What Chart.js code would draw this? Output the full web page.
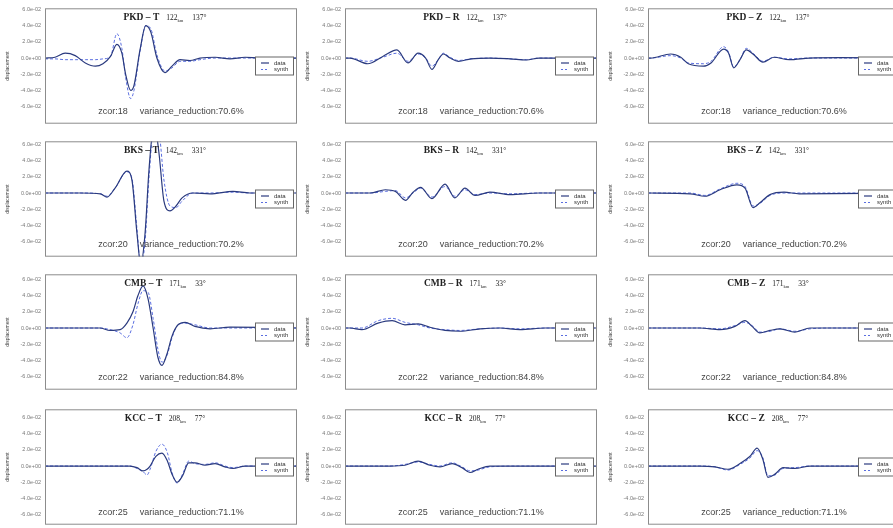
<!DOCTYPE html>
<html>
<head>
<meta charset="utf-8">
<script src="https://cdn.jsdelivr.net/npm/chart.js@4.4.1/dist/chart.umd.min.js"></script>
<style>
  body { margin: 0; background: #fff; overflow: hidden; width: 893px; height: 528px; position: relative; }
  canvas { position: absolute; }
</style>
</head>
<body>
<script>
// station info per row
const stations = ['PKD', 'BKS', 'CMB', 'KCC'];
const components = ['T', 'R', 'Z'];
const distances = [122, 142, 171, 208];
const azimuths = [137, 331, 33, 77];
const zcor = [18, 20, 22, 25];
const varReduction = [70.6, 70.2, 84.8, 71.1];
const tickStep = [0.02, 0.02, 0.02, 0.02];
const yMax = [0.0614, 0.0638, 0.0662, 0.07];
const yMin = [-0.081, -0.0786, -0.076, -0.0724];

// PKD
const pkdT_t = [0, 4, 8, 12, 16, 20, 23, 26, 28.5, 30.5, 32, 34, 35.3, 37.7, 40, 42, 44.4, 47.6, 50.4, 53.6, 57.5, 61.5, 67.5, 73.4, 79.4, 85.3, 100];
const pkdT_data = [0, 0.001, 0.006, 0.003, -0.006, -0.010, -0.007, 0.002, 0.017, 0.006, -0.020, -0.040, -0.034, 0.010, 0.040, 0.032, 0, -0.018, -0.010, -0.002, -0.003, 0, 0.001, -0.001, 0.001, 0, 0];
const pkdT_synth = [-0.001, -0.001, -0.002, -0.002, -0.002, -0.002, -0.001, 0.002, 0.030, 0.012, -0.024, -0.050, -0.040, 0.008, 0.040, 0.036, 0.004, -0.016, -0.012, -0.004, -0.004, -0.002, 0, 0, 0, 0, 0];

const pkdR_t = [0, 2, 9, 15, 20.6, 25, 29, 32, 34.5, 37, 39, 41.7, 45, 50, 57.5, 65.5, 72, 77, 100];
const pkdR_data = [0, 0, -0.007, 0.002, 0.010, -0.006, 0.006, 0, -0.014, -0.002, 0.005, 0, -0.004, -0.001, 0, -0.001, -0.0024, 0, 0];
const pkdR_synth = [0, 0, -0.004, 0.001, 0.006, -0.004, 0.005, 0, -0.010, -0.002, 0.006, 0.001, -0.003, -0.001, 0, -0.001, -0.002, 0, 0];

const pkdZ_t = [0, 1, 9, 13, 16, 22, 25, 30, 32, 34, 36.5, 39, 42, 45.6, 50, 56, 64, 76, 100];
const pkdZ_data = [0, 0, 0.005, 0.001, -0.007, -0.010, -0.006, 0.011, 0.006, -0.012, -0.002, 0.010, 0.004, -0.005, 0.001, -0.002, 0, 0.0006, 0];
const pkdZ_synth = [0, 0, 0.003, 0, -0.006, -0.007, -0.004, 0.014, 0.007, -0.011, -0.002, 0.012, 0.005, -0.004, 0.001, -0.001, 0, 0, 0];

// BKS
const bksT_t = [0, 14, 22, 24.6, 27.8, 32.5, 34.5, 36.5, 38, 39.7, 41.3, 43.3, 45.2, 47.2, 49.6, 52, 54.4, 58.7, 65.5, 74.6, 81.3, 100];
const bksT_data = [0, 0, -0.001, -0.005, 0.006, 0.027, 0.016, -0.050, -0.088, -0.050, 0.030, 0.086, 0.050, -0.010, -0.022, -0.016, -0.006, 0, -0.001, 0.002, 0, 0];
const bksT_synth = [0, 0, -0.001, -0.004, 0.006, 0.026, 0.018, -0.044, -0.090, -0.060, 0.020, 0.084, 0.076, 0.016, -0.016, -0.018, -0.010, 0, 0, 0.001, 0, 0];

const bksR_t = [0, 10, 16, 20, 24, 27, 30, 34.5, 39.7, 43.6, 47.6, 51.6, 57.5, 65.5, 77, 100];
const bksR_data = [0, 0, 0.004, 0.002, -0.009, 0.001, 0.007, -0.007, 0.011, -0.006, 0.006, -0.003, 0.001, -0.002, 0, 0];
const bksR_synth = [0, 0, 0.002, 0.003, -0.006, 0, 0.006, -0.005, 0.008, -0.004, 0.004, -0.002, 0, -0.001, 0, 0];

const bksZ_t = [0, 16.7, 22.6, 28.6, 35.3, 38.5, 41.7, 44.4, 48.4, 54, 60, 100];
const bksZ_data = [0, -0.001, -0.004, 0.004, 0.010, 0.006, -0.018, -0.012, -0.002, 0.001, -0.001, 0];
const bksZ_synth = [0, 0, -0.003, 0.005, 0.012, 0.008, -0.016, -0.013, -0.003, 0, 0, 0];

// CMB
const cmbT_t = [0, 21.8, 25.8, 29.8, 32.5, 34.9, 36.9, 38.9, 40.9, 42.9, 44.8, 46.4, 48.4, 50.4, 52.8, 55.6, 59.5, 65.5, 73.4, 100];
const cmbT_data = [0, 0, -0.003, -0.002, 0.006, 0.020, 0.040, 0.052, 0.036, 0, -0.036, -0.046, -0.032, -0.010, 0.004, 0.007, 0.002, -0.001, 0.001, 0];
const cmbT_synth = [0, 0, -0.002, -0.006, -0.012, 0.004, 0.030, 0.046, 0.044, 0.012, -0.026, -0.042, -0.034, -0.012, 0.004, 0.006, 0.004, 0, 0, 0];

const cmbR_t = [0, 2, 6.7, 13.1, 18.7, 23.8, 29, 33.7, 39.7, 45.6, 53.6, 61.5, 69.4, 79.4, 100];
const cmbR_data = [0, 0, -0.002, 0.006, 0.009, 0.004, 0.005, 0.001, -0.003, -0.004, -0.001, 0, -0.002, 0, 0];
const cmbR_synth = [0, 0, 0, 0.009, 0.012, 0.007, 0.004, 0, -0.002, -0.003, -0.001, 0, -0.001, 0, 0];

const cmbZ_t = [0, 20.6, 28.6, 34.5, 38.5, 41.3, 44.4, 48.4, 52.4, 58.3, 64.3, 72.2, 100];
const cmbZ_data = [0, 0, -0.002, 0.002, 0.009, 0.002, -0.006, -0.003, -0.001, -0.005, 0, 0, 0];
const cmbZ_synth = [0, 0, -0.001, 0.003, 0.007, 0.003, -0.005, -0.004, -0.001, -0.004, -0.001, 0, 0];

// KCC
const kccT_t = [0, 33.7, 36.5, 38.9, 40.5, 41.7, 44, 46.4, 48.6, 50.4, 52.4, 54.6, 57, 59.5, 63.5, 67.5, 71.4, 74.6, 79.4, 100];
const kccT_data = [0, 0, -0.002, -0.006, -0.004, 0, 0.012, 0.016, 0.006, -0.010, -0.020, -0.012, 0.004, 0.004, 0.001, 0.003, -0.001, -0.003, 0, 0];
const kccT_synth = [0, 0, -0.003, -0.007, -0.011, -0.004, 0.018, 0.027, 0.016, -0.008, -0.021, -0.010, 0.006, 0.003, 0.002, 0.004, 0, -0.002, 0, 0];

const kccR_t = [0, 17.9, 23.8, 29, 33.7, 37.7, 42.5, 46.4, 49.6, 52.8, 57.5, 69.4, 100];
const kccR_data = [0, 0, 0.001, 0.006, 0.001, -0.001, 0.003, -0.002, -0.008, -0.004, 0, 0, 0];
const kccR_synth = [0, 0, 0.002, 0.005, 0.002, 0, 0.004, -0.001, -0.006, -0.005, -0.001, 0, 0];

const kccZ_t = [0, 20.6, 26.6, 31.7, 36.5, 40.5, 43.3, 45.6, 47.6, 50.4, 53.6, 58.3, 64.3, 72.2, 100];
const kccZ_data = [0, 0, -0.001, -0.004, 0.003, 0.012, 0.022, 0.008, -0.014, -0.010, -0.002, -0.003, 0, 0, 0];
const kccZ_synth = [0, 0, -0.001, -0.005, 0.002, 0.010, 0.019, 0.010, -0.012, -0.011, -0.003, -0.002, 0, 0, 0];

const panels = [
  [[pkdT_t, pkdT_data, pkdT_synth], [pkdR_t, pkdR_data, pkdR_synth], [pkdZ_t, pkdZ_data, pkdZ_synth]],
  [[bksT_t, bksT_data, bksT_synth], [bksR_t, bksR_data, bksR_synth], [bksZ_t, bksZ_data, bksZ_synth]],
  [[cmbT_t, cmbT_data, cmbT_synth], [cmbR_t, cmbR_data, cmbR_synth], [cmbZ_t, cmbZ_data, cmbZ_synth]],
  [[kccT_t, kccT_data, kccT_synth], [kccR_t, kccR_data, kccR_synth], [kccZ_t, kccZ_data, kccZ_synth]]
];

// layout
const PLOT_LEFT = [45, 345, 648];
const PLOT_TOP = [8, 141, 274, 409];
const PLOT_W = 252, PLOT_H = 115, AXIS_W = 45, PAD = 4;

function fmtExp(v) {
  const s = v.toExponential(1);
  const parts = s.split('e');
  const sign = parts[1][0];
  return parts[0] + 'e' + sign + parts[1].slice(1).padStart(2, '0');
}

function decoPlugin(row, col) {
  return {
    id: 'deco' + row + col,
    afterDatasetsDraw(chart) {
      const ctx = chart.ctx, a = chart.chartArea;
      ctx.save();
      // frame
      ctx.strokeStyle = '#8c8c8c';
      ctx.lineWidth = 1;
      ctx.strokeRect(a.left + 0.5, a.top + 0.5, a.right - a.left - 1, a.bottom - a.top - 1);

      // title
      const parts = [
        { t: stations[row] + ' – ' + components[col], f: 'bold 9.5px "Liberation Serif"', dy: 0, gap: 7 },
        { t: String(distances[row]), f: '7.5px "Liberation Serif"', dy: 0, gap: 0 },
        { t: 'km', f: '4.5px "Liberation Serif"', dy: 2, gap: 9 },
        { t: azimuths[row] + '°', f: '7.5px "Liberation Serif"', dy: 0, gap: 0 }
      ];
      let total = 0;
      parts.forEach(p => { ctx.font = p.f; p.w = ctx.measureText(p.t).width; total += p.w + p.gap; });
      let x = (a.left + a.right) / 2 - 6 - total / 2;
      const ty = a.top + 12;
      ctx.fillStyle = '#222';
      ctx.textBaseline = 'alphabetic';
      ctx.textAlign = 'left';
      parts.forEach(p => { ctx.font = p.f; ctx.fillText(p.t, x, ty + p.dy); x += p.w + p.gap; });

      // bottom text
      ctx.font = '9px "Liberation Sans"';
      ctx.fillStyle = '#444';
      const t1 = 'zcor:' + zcor[row];
      const t2 = 'variance_reduction:' + varReduction[row].toFixed(1) + '%';
      const w1 = ctx.measureText(t1).width, w2 = ctx.measureText(t2).width, g = 12;
      const bx0 = (a.left + a.right) / 2 - (w1 + g + w2) / 2;
      ctx.fillText(t1, bx0, a.bottom - 10);
      ctx.fillText(t2, bx0 + w1 + g, a.bottom - 10);

      // legend
      const bw = 39, bh = 19;
      const lx = a.right - 3 - bw, ly = (a.top + a.bottom) / 2 - bh / 2;
      ctx.fillStyle = '#fff';
      ctx.fillRect(lx, ly, bw, bh);
      ctx.strokeStyle = '#666';
      ctx.strokeRect(lx + 0.5, ly + 0.5, bw - 1, bh - 1);
      const items = [
        { label: 'data', color: '#2a3a7e', dash: [], w: 1.2 },
        { label: 'synth', color: '#5a6ee0', dash: [2, 2], w: 1 }
      ];
      items.forEach((it, i) => {
        const yy = ly + 6.5 + i * 6.5;
        ctx.beginPath();
        ctx.setLineDash(it.dash);
        ctx.strokeStyle = it.color;
        ctx.lineWidth = it.w;
        ctx.moveTo(lx + 6, yy);
        ctx.lineTo(lx + 14, yy);
        ctx.stroke();
        ctx.setLineDash([]);
        ctx.font = '6px "Liberation Sans"';
        ctx.fillStyle = '#333';
        ctx.textBaseline = 'middle';
        ctx.fillText(it.label, lx + 19, yy);
      });
      ctx.restore();
    }
  };
}

function makePanel(row, col) {
  const [t, data, synth] = panels[row][col];
  const canvas = document.createElement('canvas');
  const cw = AXIS_W + PLOT_W + PAD;
  canvas.width = cw;
  canvas.height = PLOT_H + 2 * PAD;
  canvas.style.left = (PLOT_LEFT[col] - AXIS_W) + 'px';
  canvas.style.top = (PLOT_TOP[row] - PAD) + 'px';
  document.body.appendChild(canvas);

  const step = tickStep[row];
  const chart = new Chart(canvas.getContext('2d'), {
    type: 'line',
    data: {
      datasets: [
        {
          label: 'data',
          data: t.map((x, i) => ({ x: x, y: data[i] })),
          borderColor: '#2a3a7e',
          borderWidth: 1.2,
          pointRadius: 0,
          cubicInterpolationMode: 'monotone'
        },
        {
          label: 'synth',
          data: t.map((x, i) => ({ x: x, y: synth[i] })),
          borderColor: '#5a6ee0',
          borderWidth: 1,
          borderDash: [3, 2],
          pointRadius: 0,
          cubicInterpolationMode: 'monotone'
        }
      ]
    },
    options: {
      responsive: false,
      maintainAspectRatio: false,
      animation: false,
      devicePixelRatio: 1,
      layout: { padding: { top: PAD, bottom: PAD, left: 0, right: PAD } },
      scales: {
        x: { type: 'linear', min: 0, max: 100, display: false },
        y: {
          min: yMin[row],
          max: yMax[row],
          grid: { display: false, drawTicks: false },
          border: { display: false },
          afterBuildTicks: s => { s.ticks = [-3, -2, -1, 0, 1, 2, 3].map(k => ({ value: k * step })); },
          afterFit: s => { s.width = AXIS_W; },
          ticks: {
            padding: 4,
            color: '#777',
            font: { family: 'Liberation Sans', size: 5.5 },
            callback: v => fmtExp(v)
          },
          title: {
            display: true,
            text: 'displacement',
            color: '#444',
            font: { family: 'Liberation Sans', size: 5 },
            padding: { top: 5, bottom: 0 }
          }
        }
      },
      plugins: { legend: { display: false }, tooltip: { enabled: false } }
    },
    plugins: [decoPlugin(row, col)]
  });

  // make the plot area land exactly on the intended box
  const ca = chart.chartArea;
  const extraTop = ca.top;
  const extraBottom = canvas.height - ca.bottom;
  const h = Math.round(PLOT_H + extraTop + extraBottom);
  canvas.style.top = (PLOT_TOP[row] - extraTop) + 'px';
  chart.resize(cw, h);
}

for (let r = 0; r < 4; r++) {
  for (let c = 0; c < 3; c++) makePanel(r, c);
}
</script>
</body>
</html>
